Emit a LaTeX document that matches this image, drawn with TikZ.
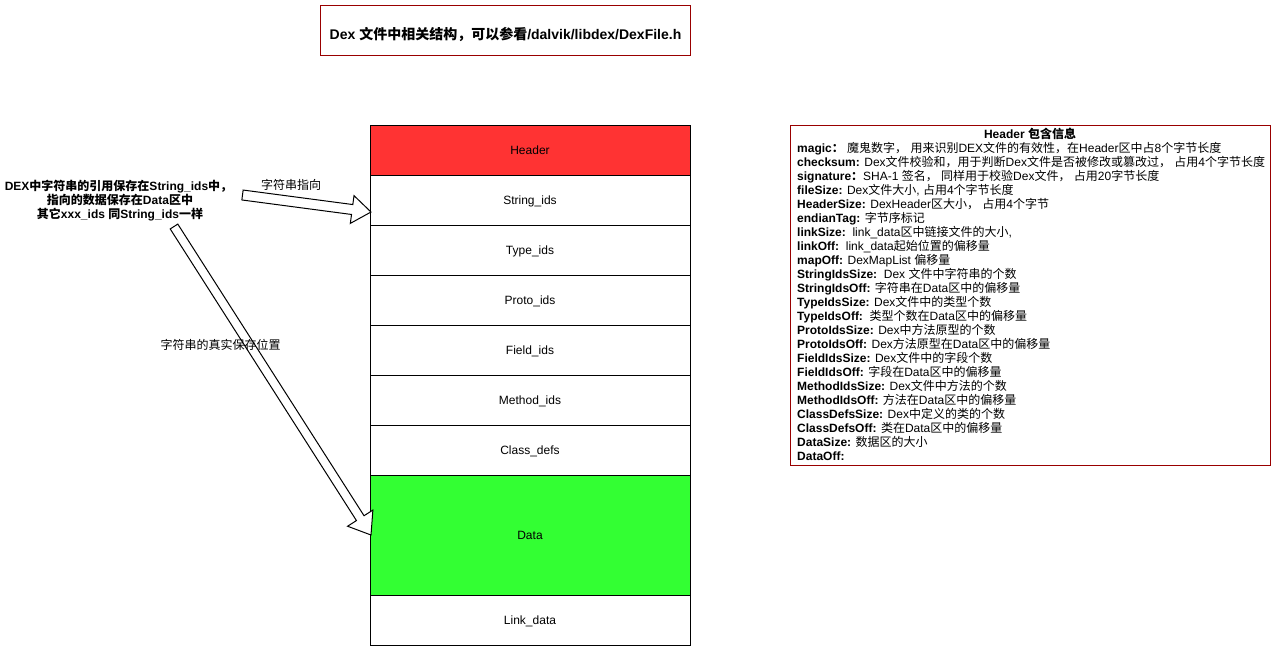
\documentclass[tikz,border=0pt]{standalone}
\usepackage{fontspec}
\setmainfont{Liberation Sans}
\newfontfamily\cjkfont{Noto Sans CJK SC}
\usetikzlibrary{calc}
\XeTeXinterchartokenstate=1
\newXeTeXintercharclass\CJKcls
\makeatletter
\def\setcjkrange#1#2{\count@=#1\relax\loop\XeTeXcharclass\count@=\CJKcls\ifnum\count@<#2\relax\advance\count@ by 1\repeat}
\makeatother
\setcjkrange{"4E00}{"9FFF}
\setcjkrange{"3000}{"303F}
\setcjkrange{"FF00}{"FFEF}
\XeTeXinterchartoks 0 \CJKcls = {\begingroup\cjkfont}
\XeTeXinterchartoks 4095 \CJKcls = {\begingroup\cjkfont}
\XeTeXinterchartoks \CJKcls 0 = {\endgroup}
\XeTeXinterchartoks \CJKcls 4095 = {\endgroup}
\definecolor{dred}{HTML}{990000}
\definecolor{hred}{HTML}{FF3333}
\definecolor{dgreen}{HTML}{33FF33}
\newcommand{\blockarrow}[4]{%
  \coordinate (#1hb) at ($(#1e)!#4!(#1s)$);
  \draw[barrow] ($(#1s)!#2!90:(#1e)$) -- ($(#1hb)!#2!90:(#1e)$) -- ($(#1hb)!#3!90:(#1e)$) -- (#1e)
    -- ($(#1hb)!#3!-90:(#1e)$) -- ($(#1hb)!#2!-90:(#1e)$) -- ($(#1s)!#2!-90:(#1e)$) -- cycle;}
\tikzset{
  seg/.style={draw=black, line width=1pt, minimum width=320pt, minimum height=50pt, inner sep=0pt},
  seglbl/.style={inner sep=0pt, anchor=base, font=\fontsize{12}{14}\selectfont},
  redbox/.style={draw=dred, line width=1pt, inner sep=0pt},
  txt/.style={inner sep=0pt, font=\fontsize{12}{14}\selectfont},
  btxt/.style={inner sep=0pt, font=\fontsize{12}{14}\selectfont\bfseries},
  barrow/.style={draw=black, fill=white, line width=1pt, line join=miter},
}
\begin{document}
\begin{tikzpicture}[x=1pt, y=-1pt]
\useasboundingbox[fill=white] (0,0) rectangle (1271,646);
% title
\node[redbox, minimum width=370pt, minimum height=50pt] (titlebox) at (505,30) {};
\node[inner sep=0pt, font=\fontsize{14}{16}\selectfont\bfseries, anchor=base] (titletext) at (505.5,39) {Dex 文件中相关结构，可以参看/dalvik/libdex/DexFile.h};
% stack
\node[seg, fill=hred] (header) at (530,150) {};
\node[seg] (stringids) at (530,200) {};
\node[seg] (typeids) at (530,250) {};
\node[seg] (protoids) at (530,300) {};
\node[seg] (fieldids) at (530,350) {};
\node[seg] (methodids) at (530,400) {};
\node[seg] (classdefs) at (530,450) {};
\node[seg, fill=dgreen, minimum height=120pt] (data) at (530,535) {};
\node[seg] (linkdata) at (530,620) {};
\node[seglbl] (lheader) at ([yshift=-4.3pt]header.center) {Header};
\node[seglbl] (lstringids) at ([yshift=-4.3pt]stringids.center) {String\_ids};
\node[seglbl] (ltypeids) at ([yshift=-4.3pt]typeids.center) {Type\_ids};
\node[seglbl] (lprotoids) at ([yshift=-4.3pt]protoids.center) {Proto\_ids};
\node[seglbl] (lfieldids) at ([yshift=-4.3pt]fieldids.center) {Field\_ids};
\node[seglbl] (lmethodids) at ([yshift=-4.3pt]methodids.center) {Method\_ids};
\node[seglbl] (lclassdefs) at ([yshift=-4.3pt]classdefs.center) {Class\_defs};
\node[seglbl] (ldata) at ([yshift=-4.3pt]data.center) {Data};
\node[seglbl] (llinkdata) at ([yshift=-4.3pt]linkdata.center) {Link\_data};
% arrows
\coordinate (as) at (242.5,195);
\coordinate (ae) at (371,212);
\blockarrow{a}{5pt}{14pt}{19pt}
\coordinate (bs) at (174,226.5);
\coordinate (be) at (371,535);
\blockarrow{b}{4.5pt}{15pt}{20pt}
% left texts
\node[btxt, anchor=base] (lt1) at (118.5,190) {DEX中字符串的引用保存在String\_ids中，};
\node[btxt, anchor=base] (lt2) at (120,204) {指向的数据保存在Data区中};
\node[btxt, anchor=base] (lt3) at (120,218) {其它xxx\_ids 同String\_ids一样};
\node[txt, anchor=base] (lbl1) at (291,189) {字符串指向};
\node[txt, anchor=base] (lbl2) at (220.5,349) {字符串的真实保存位置};
% header info box
\node[redbox, minimum width=480pt, minimum height=340pt] (hdrbox) at (1030,295) {};
\node[btxt, anchor=base] (hdrtitle) at (1030,138) {Header 包含信息};
\foreach \t [count=\i] in {
  {\textbf{magic：} 魔鬼数字， 用来识别DEX文件的有效性，在Header区中占8个字节长度},
  {\textbf{checksum:} Dex文件校验和，用于判断Dex文件是否被修改或篡改过， 占用4个字节长度},
  {\textbf{signature：}SHA-1 签名， 同样用于校验Dex文件， 占用20字节长度},
  {\textbf{fileSize:} Dex文件大小, 占用4个字节长度},
  {\textbf{HeaderSize:} DexHeader区大小， 占用4个字节},
  {\textbf{endianTag:} 字节序标记},
  {\textbf{linkSize:}\ \ link\_data区中链接文件的大小,},
  {\textbf{linkOff:}\ \ link\_data起始位置的偏移量},
  {\textbf{mapOff:} DexMapList 偏移量},
  {\textbf{StringIdsSize:}\ \ Dex 文件中字符串的个数},
  {\textbf{StringIdsOff:} 字符串在Data区中的偏移量},
  {\textbf{TypeIdsSize:} Dex文件中的类型个数},
  {\textbf{TypeIdsOff:}\ \ 类型个数在Data区中的偏移量},
  {\textbf{ProtoIdsSize:} Dex中方法原型的个数},
  {\textbf{ProtoIdsOff:} Dex方法原型在Data区中的偏移量},
  {\textbf{FieldIdsSize:} Dex文件中的字段个数},
  {\textbf{FieldIdsOff:} 字段在Data区中的偏移量},
  {\textbf{MethodIdsSize:} Dex文件中方法的个数},
  {\textbf{MethodIdsOff:} 方法在Data区中的偏移量},
  {\textbf{ClassDefsSize:} Dex中定义的类的个数},
  {\textbf{ClassDefsOff:} 类在Data区中的偏移量},
  {\textbf{DataSize:} 数据区的大小},
  {\textbf{DataOff:}}
}{
  \node[txt, anchor=base west] (hl\i) at (797,{152+14*(\i-1)}) {\t};
}
\end{tikzpicture}
\end{document}
